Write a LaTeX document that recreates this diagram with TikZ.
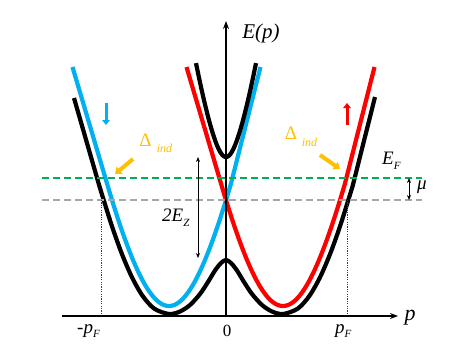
\documentclass[tikz,border=0pt]{standalone}
\usepackage{fontspec}
\setmainfont{Liberation Serif}
\usetikzlibrary{arrows.meta}
\definecolor{cblue}{HTML}{00B0F0}
\definecolor{cred}{HTML}{FF0000}
\definecolor{cgreen}{HTML}{00B050}
\definecolor{cgray}{HTML}{A6A6A6}
\definecolor{corange}{HTML}{FFC000}
\newcommand{\lowsub}[1]{\raisebox{-0.55ex}{\fontsize{11}{11}\selectfont\itshape #1}}
\begin{document}
\begin{tikzpicture}[x=1pt,y=-1pt,
  every node/.style={inner sep=0pt, font=\fontsize{19}{19}\selectfont},
  band/.style={line width=4.2pt},
  axisline/.style={line width=1.3pt, -{Stealth[length=8pt,width=6pt]}},
  level/.style={line width=1.8pt, dash pattern=on 7pt off 4pt},
  guide/.style={line width=0.7pt, dash pattern=on 1.2pt off 1.2pt, black!75},
  spin/.style={line width=3pt, -{Triangle[length=5pt,width=7.5pt]}},
  gaparrow/.style={corange, line width=4pt, -{Triangle[length=6pt,width=9pt]}},
  dimarrow/.style={line width=0.7pt, {Stealth[length=5pt,width=4pt]}-{Stealth[length=5pt,width=4pt]}},
  gaplabel/.style={text=corange, font=\fontsize{19}{19}\selectfont},
  indlabel/.style={text=corange, font=\fontsize{12}{12}\selectfont\itshape}
]
\fill[white] (0,0) rectangle (471,353);
\useasboundingbox (0,0) rectangle (471,353);

% coordinates
\coordinate (O) at (226,316);
\coordinate (xstart) at (62,316);
\coordinate (xend) at (398,316);
\coordinate (ytop) at (226,21);
\coordinate (gL) at (42,178);
\coordinate (gR) at (422,178);
\coordinate (mL) at (42,200);
\coordinate (mR) at (422,200);
\coordinate (pFLtop) at (101,200);
\coordinate (pFLbot) at (101,316);
\coordinate (pFRtop) at (347,200);
\coordinate (pFRbot) at (347,316);

% spin-split bands
\draw[band, cblue] (72.5,67) -- (107,183.5)
  -- plot[domain=-62:62, samples=80] ({169+\x},{306-4.88*(sqrt((\x)*(\x)+4096)-64)})
  -- (260.5,67);
\draw[band, cred] (186.5,67) -- (221,183.5)
  -- plot[domain=-62:62, samples=80] ({283+\x},{306-4.88*(sqrt((\x)*(\x)+4096)-64)})
  -- (374.5,67);

% hybridised bands
\draw[band] (74,98) -- (99.3,185.8) -- plot[smooth] coordinates {
  (99.3,185.8) (111.4,224.5) (121.5,252.9) (131.8,276.9) (142.4,295.6) (154.2,308.6)
  (169,314) (180,311.5) (190,305) (200,294) (208,282) (215,270.5) (221,263) (226,260)
  (231,263) (237,270.5) (244,282) (252,294) (262,305) (272,311.5) (283,314)
  (297.8,308.6) (309.6,295.6) (320.2,276.9) (330.5,252.9) (340.6,224.5) (352.7,185.8)}
  -- (375,97);
\draw[band] plot[domain=-30:30, samples=61]
  ({226+\x},{157-3.5*(sqrt((\x)*(\x)+196)-14)-0.03*(\x)*(\x)});

% levels
\draw[level, cgreen] (gL) -- (gR);
\draw[level, cgray] (mL) -- (mR);
\draw[guide] (pFLtop) -- (pFLbot);
\draw[guide] (pFRtop) -- (pFRbot);

% axes
\draw[axisline] (xstart) -- (xend);
\draw[axisline] (O) -- (ytop);

% spin arrows
\coordinate (sb1) at (106,103); \coordinate (sb2) at (106,125);
\coordinate (sr1) at (347,125); \coordinate (sr2) at (347,103);
\draw[spin, cblue] (sb1) -- (sb2);
\draw[spin, cred] (sr1) -- (sr2);

% induced gap arrows and labels
\coordinate (oa1) at (133,159); \coordinate (oa2) at (115,174);
\coordinate (ob1) at (320,155); \coordinate (ob2) at (340,169);
\draw[gaparrow] (oa1) -- (oa2);
\draw[gaparrow] (ob1) -- (ob2);
\node[gaplabel] (dL) at (145.5,140) {Δ};
\node[indlabel] (iL) at (164.5,148) {ind};
\node[gaplabel] (dR) at (291,133) {Δ};
\node[indlabel] (iR) at (309.5,142) {ind};

% Zeeman gap
\coordinate (ez1) at (198,157); \coordinate (ez2) at (198,258);
\draw[dimarrow] (ez1) -- (ez2);
\node[anchor=west] (EZ) at (162,218) {\textit{2E}\lowsub{Z}};

% chemical potential
\coordinate (mu1) at (409,178); \coordinate (mu2) at (409,200);
\draw[dimarrow] (mu1) -- (mu2);
\node (MU) at (422,187) {\textit{μ}};
\node[anchor=west] (EF) at (382,161) {\textit{E}\lowsub{F}};

% axis labels
\node (Ep) at (261,33) {\fontsize{21}{21}\selectfont\textit{E(p)}};
\node (pax) at (410,318) {\fontsize{22}{22}\selectfont\textit{p}};
\node (zero) at (227,331) {\fontsize{17}{17}\selectfont 0};
\node[anchor=west] (mpF) at (77,331) {-\textit{p}\lowsub{F}};
\node[anchor=west] (ppF) at (335,331) {\textit{p}\lowsub{F}};
\end{tikzpicture}
\end{document}
